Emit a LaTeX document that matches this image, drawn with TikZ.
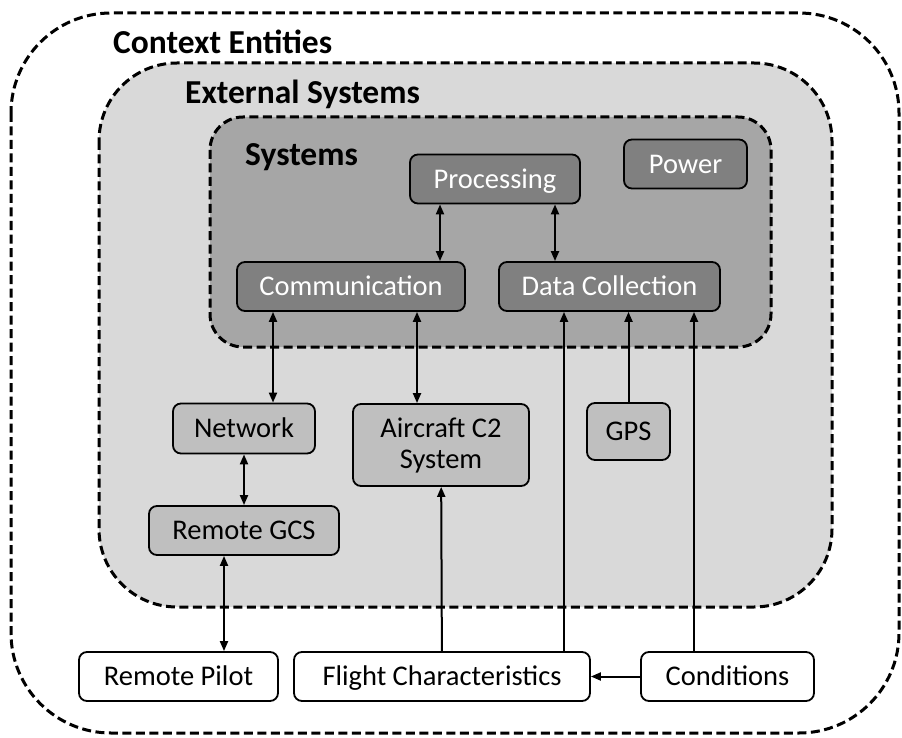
\documentclass[tikz,border=0pt]{standalone}
\usepackage{fontspec}
\setmainfont{Carlito}
\usetikzlibrary{arrows.meta}

\begin{document}
\begin{tikzpicture}[x=1pt, y=-1pt,
    region/.style={draw, dash pattern=on 9pt off 4.5pt, line width=3pt},
    box/.style={draw, rounded corners=8pt, line width=1.8pt, inner sep=0pt, minimum height=49pt, text height=18.5pt, text depth=0pt, font=\fontsize{28.5}{31}\selectfont},
    sysbox/.style={box, fill=black!50, text=white},
    extbox/.style={box, fill=black!25},
    ctxbox/.style={box, fill=white},
    title/.style={anchor=west, inner sep=0pt, font=\fontsize{33.5}{36}\selectfont\bfseries},
    link/.style={line width=2pt, -{Triangle[length=10pt,width=8pt]}},
    dlink/.style={line width=2pt, {Triangle[length=10pt,width=8pt]}-{Triangle[length=10pt,width=8pt]}}]
    \useasboundingbox (0,0) rectangle (902,738);

    \draw [region, fill=white, rounded corners=100pt] (11,13) rectangle (899,733);
    \draw [region, fill=black!15, rounded corners=78pt] (99,63) rectangle (832,607);
    \draw [region, fill=black!35, rounded corners=33pt] (210,117) rectangle (771,347);

    \node[title] at (113,42) (ctx) {Context Entities};
    \node[title] at (185,94) (ext) {External Systems};
    \node[title] at (245,157) (sys) {Systems};

    \node[sysbox, minimum width=170pt] at (495,179) (proc) {Processing};
    \node[sysbox, minimum width=123pt] at (685.5,164) (power) {Power};
    \node[sysbox, minimum width=228pt] at (351,286.5) (comm) {Communication};
    \node[sysbox, minimum width=221pt] at (609.5,286.5) (data) {Data Collection};

    \node[extbox, minimum width=142pt, minimum height=50pt] at (244,428.5) (net) {Network};
    \node[extbox, minimum width=176pt, minimum height=82pt, text height=, text depth=, align=center] at (441,445) (c2) {Aircraft C2\\System};
    \node[extbox, minimum width=83pt, minimum height=57pt] at (628.5,431.5) (gps) {GPS};
    \node[extbox, minimum width=190pt] at (244,530.5) (gcs) {Remote GCS};

    \node[ctxbox, minimum width=199pt] at (178.5,676.5) (pilot) {Remote Pilot};
    \node[ctxbox, minimum width=296pt] at (442,676.5) (flight) {Flight Characteristics};
    \node[ctxbox, minimum width=173pt] at (727.5,676.5) (cond) {Conditions};

    \draw [dlink] ([xshift=-55pt]proc.south) -- ([xshift=-55pt]proc.south |- comm.north);
    \draw [dlink] ([xshift=60pt]proc.south) -- ([xshift=60pt]proc.south |- data.north);
    \draw [dlink] ([xshift=-78pt]comm.south) -- ([xshift=-78pt]comm.south |- net.north);
    \draw [dlink] ([xshift=66pt]comm.south) -- ([xshift=66pt]comm.south |- c2.north);
    \draw [dlink] (net) -- (gcs);
    \draw [dlink] ([xshift=-20pt]gcs.south) -- ([xshift=-20pt]gcs.south |- pilot.north);
    \draw [link] (flight) -- (c2);
    \draw [link] ([xshift=122pt]flight.north) -- ([xshift=122pt]flight.north |- data.south);
    \draw [link] (gps) -- (gps |- data.south);
    \draw [link] ([xshift=-33.5pt]cond.north) -- ([xshift=-33.5pt]cond.north |- data.south);
    \draw [link] (cond) -- (flight);
\end{tikzpicture}
\end{document}
